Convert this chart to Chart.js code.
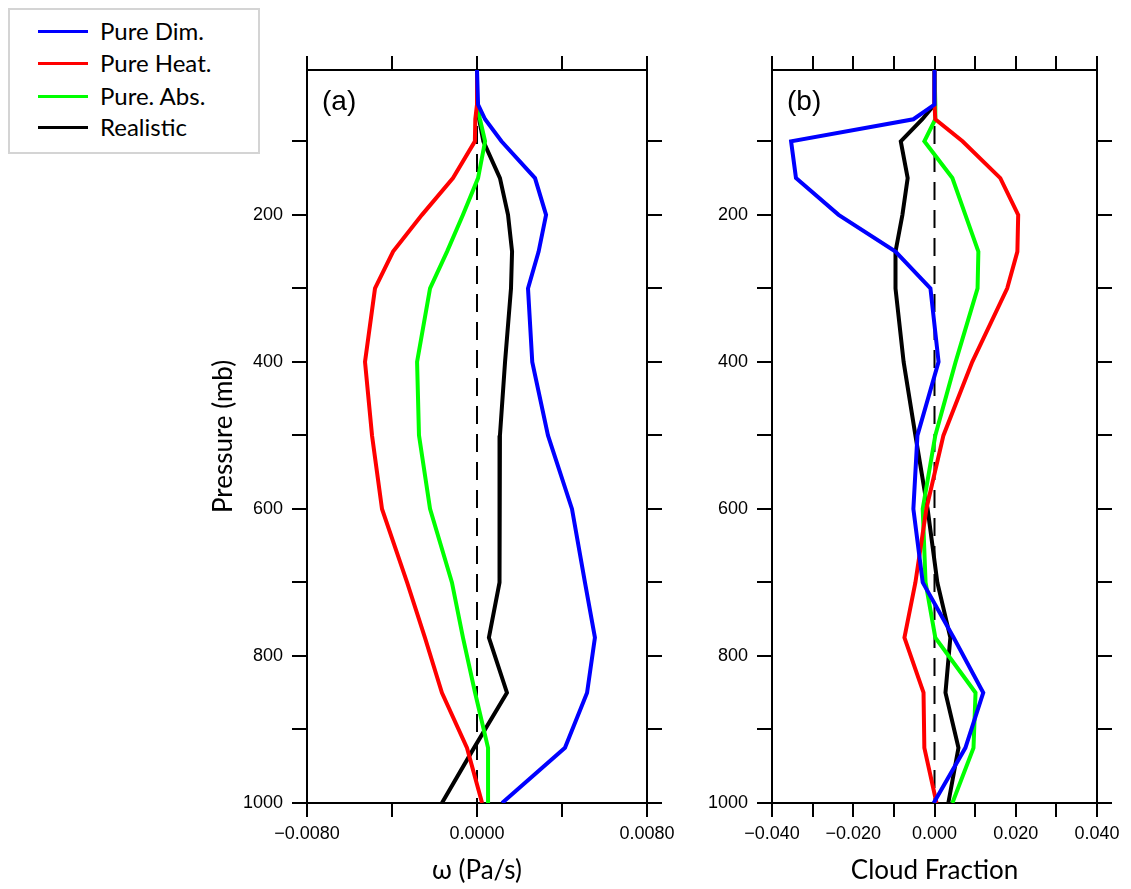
<!DOCTYPE html>
<html>
<head>
<meta charset="utf-8">
<script src="https://cdn.jsdelivr.net/npm/chart.js@4.4.1/dist/chart.umd.min.js"></script>
<style>
    body { margin: 0; background: #fff; width: 1131px; height: 889px; position: relative; overflow: hidden; }
    canvas { position: absolute; top: 0; }
    #graficaOmega { left: 0; }
    #graficaNube { left: 700px; }
    #leyenda {
        position: absolute; left: 8px; top: 8px; width: 248px; height: 142px;
        border: 2px solid #d4d4d4; background: #fff; z-index: 2;
        font-family: Lato, "Open Sans", sans-serif; font-size: 24px; color: #000;
    }
    .fila { position: absolute; left: 0; height: 32px; }
    .fila span.linea { position: absolute; left: 28px; width: 50px; height: 3px; }
    .fila span.texto { position: absolute; left: 90px; white-space: nowrap; line-height: 32px; top: -16px; }
</style>
</head>
<body>
<canvas id="graficaOmega" width="700" height="889"></canvas>
<canvas id="graficaNube" width="431" height="889"></canvas>
<div id="leyenda"></div>
<script>
// niveles de presion (mb)
const niveles = [3, 50, 70, 100, 150, 200, 250, 300, 400, 500, 600, 700, 775, 850, 925, 1000];
const nombres = ["Pure Dim.", "Pure Heat.", "Pure. Abs.", "Realistic"];
const colores = ["#0000ff", "#ff0000", "#00ff00", "#000000"];

// (a) omega (Pa/s)
const omegaDim  = [0, 0.00005, 0.00038, 0.00115, 0.00273, 0.00325, 0.0029, 0.0024, 0.0026, 0.00334, 0.00447, 0.00508, 0.00555, 0.00518, 0.00414, 0.00118];
const omegaHeat = [0, 0, -0.00008, -0.0001, -0.00113, -0.00259, -0.00395, -0.0048, -0.00527, -0.00494, -0.00447, -0.00329, -0.00245, -0.00165, -0.00047, 0.00024];
const omegaAbs  = [0, 0, 0.00014, 0.00038, 0.00005, -0.00066, -0.00141, -0.00221, -0.00282, -0.00273, -0.00221, -0.00118, -0.00066, -0.00009, 0.00052, 0.00052];
const omegaReal = [0, 0, 0.0001, 0.0003, 0.00108, 0.00146, 0.00165, 0.0016, 0.00132, 0.00108, 0.00108, 0.00104, 0.00056, 0.00141, -0.00014, -0.00165];

// (b) cloud fraction
const nubeDim  = [0, 0, -0.0052, -0.0353, -0.0341, -0.0236, -0.0096, -0.001, 0.001, -0.0042, -0.0052, -0.0029, 0.0047, 0.012, 0.0076, -0.0002];
const nubeHeat = [0, 0, 0.0002, 0.0069, 0.0162, 0.0206, 0.0204, 0.0179, 0.0093, 0.0022, -0.002, -0.0047, -0.0074, -0.0027, -0.0025, 0.0005];
const nubeAbs  = [0, 0.0002, 0.0002, -0.0025, 0.0044, 0.0076, 0.0108, 0.0106, 0.0052, 0.0002, -0.0029, -0.0022, 0.0002, 0.0101, 0.0096, 0.0044];
const nubeReal = [0, 0, -0.003, -0.0083, -0.0066, -0.0079, -0.0096, -0.0096, -0.0076, -0.0047, -0.0017, 0.0007, 0.0039, 0.0027, 0.0059, 0.0034];

// ticks
const ticksPresion = [100, 200, 300, 400, 500, 600, 700, 800, 900, 1000];
const etiquetasPresion = ["", "200", "", "400", "", "600", "", "800", "", "1000"];
const ticksOmega = [-0.008, -0.004, 0, 0.004, 0.008];
const etiquetasOmega = ["\u22120.0080", "", "0.0000", "", "0.0080"];
const ticksNube = [-0.04, -0.03, -0.02, -0.01, 0, 0.01, 0.02, 0.03, 0.04];
const etiquetasNube = ["\u22120.040", "", "\u22120.020", "", "0.000", "", "0.020", "", "0.040"];

const fuenteTicks = { family: "'Liberation Sans', Arial, sans-serif", size: 18 };
const fuenteTitulo = { family: "Lato, 'Open Sans', sans-serif", size: 26 };

const extras = {
    id: "extras",
    beforeDatasetsDraw(chart, args, opts) {
        const { ctx, chartArea, scales } = chart;
        const x0 = scales.x.getPixelForValue(0);
        ctx.save();
        ctx.setLineDash([18, 10]);
        ctx.lineWidth = 2;
        ctx.strokeStyle = "#000";
        ctx.beginPath();
        ctx.moveTo(x0, chartArea.top);
        ctx.lineTo(x0, chartArea.bottom);
        ctx.stroke();
        ctx.restore();
    },
    afterDraw(chart, args, opts) {
        const { ctx, chartArea } = chart;
        ctx.save();
        ctx.font = "28px 'Liberation Sans', Arial, sans-serif";
        ctx.fillStyle = "#000";
        ctx.textBaseline = "middle";
        ctx.fillText(opts.texto, chartArea.left + 15, chartArea.top + 32);
        ctx.restore();
    }
};

function escalaX(min, max, ticks, etiquetas, abajo, titulo, altoCanvas, area) {
    return {
        type: "linear",
        position: abajo ? "bottom" : "top",
        min: min,
        max: max,
        afterBuildTicks: s => { s.ticks = ticks.map(v => ({ value: v })); },
        afterFit: s => { s.height = abajo ? altoCanvas - area.bottom : area.top; },
        ticks: {
            display: abajo,
            autoSkip: false,
            maxRotation: 0,
            padding: 6,
            color: "#000",
            font: fuenteTicks,
            callback: (v, i) => etiquetas[i]
        },
        grid: { drawOnChartArea: false, tickLength: 14, color: "#000", lineWidth: 2 },
        border: { color: "#000", width: 2 },
        title: {
            display: abajo,
            text: titulo,
            color: "#000",
            font: fuenteTitulo,
            padding: { top: 0, bottom: 3 }
        }
    };
}

function escalaY(izquierda, titulo, anchoCanvas, area) {
    return {
        type: "linear",
        position: izquierda ? "left" : "right",
        reverse: true,
        min: 3,
        max: 1000,
        afterBuildTicks: s => { s.ticks = ticksPresion.map(v => ({ value: v })); },
        afterFit: s => { s.width = izquierda ? area.left : anchoCanvas - area.right; },
        ticks: {
            display: izquierda,
            autoSkip: false,
            padding: 9,
            color: "#000",
            font: fuenteTicks,
            callback: (v, i) => etiquetasPresion[i]
        },
        grid: { drawOnChartArea: false, tickLength: 15, color: "#000", lineWidth: 2 },
        border: { color: "#000", width: 2 },
        title: {
            display: izquierda && titulo !== "",
            text: titulo,
            color: "#000",
            font: fuenteTitulo,
            padding: { top: 208, bottom: 0 }
        }
    };
}

function crearGrafica(id, series, rango, ticks, etiquetas, tituloX, tituloY, panel, area) {
    const canvas = document.getElementById(id);
    const ctx = canvas.getContext("2d");

    const datasets = series.map((valores, i) => ({
        label: nombres[i],
        data: valores.map((v, k) => ({ x: v, y: niveles[k] })),
        borderColor: colores[i],
        borderWidth: 4,
        pointRadius: 0,
        tension: 0,
        showLine: true,
        fill: false,
        xAxisID: "x",
        yAxisID: "y"
    }));

    new Chart(ctx, {
        type: "scatter",
        data: { datasets: datasets },
        options: {
            responsive: false,
            animation: false,
            devicePixelRatio: 1,
            layout: { padding: 0 },
            plugins: {
                legend: { display: false },
                tooltip: { enabled: false },
                extras: { texto: panel }
            },
            scales: {
                x: escalaX(rango[0], rango[1], ticks, etiquetas, true, tituloX, canvas.height, area),
                xTop: escalaX(rango[0], rango[1], ticks, etiquetas, false, "", canvas.height, area),
                y: escalaY(true, tituloY, canvas.width, area),
                yRight: escalaY(false, "", canvas.width, area)
            }
        },
        plugins: [extras]
    });
}

function iniciarLeyenda() {
    const caja = document.getElementById("leyenda");
    const filasY = [21, 53, 86, 117];
    nombres.forEach((nombre, i) => {
        const fila = document.createElement("div");
        fila.className = "fila";
        fila.style.top = filasY[i] + "px";
        fila.innerHTML = '<span class="linea" style="background:' + colores[i] + ';top:-1px"></span>' +
            '<span class="texto">' + nombre + '</span>';
        caja.appendChild(fila);
    });
}

iniciarLeyenda();

crearGrafica("graficaOmega", [omegaDim, omegaHeat, omegaAbs, omegaReal], [-0.008, 0.008],
    ticksOmega, etiquetasOmega, "\u03c9 (Pa/s)", "Pressure (mb)", "(a)",
    { left: 307, right: 647, top: 70, bottom: 803 });

crearGrafica("graficaNube", [nubeDim, nubeHeat, nubeAbs, nubeReal], [-0.04, 0.04],
    ticksNube, etiquetasNube, "Cloud Fraction", "", "(b)",
    { left: 72, right: 397, top: 70, bottom: 803 });
</script>
</body>
</html>
